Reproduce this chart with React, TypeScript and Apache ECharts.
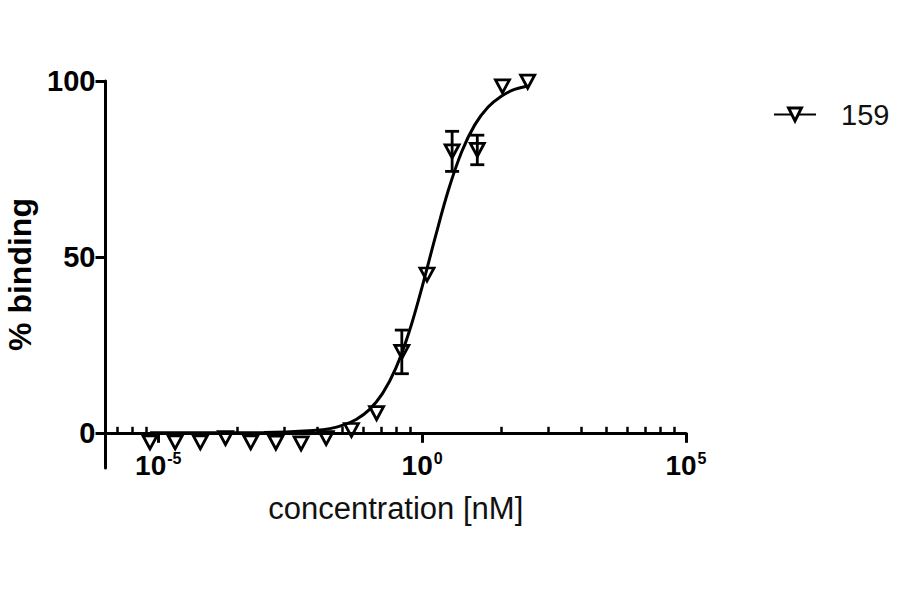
import { useEffect, useRef } from "react";
import * as echarts from "echarts";

const FONT = '"Liberation Sans", Arial, Helvetica, sans-serif';

// 3-fold dilution series (nM) with mean % binding and SD
const concentrations = [
	6.97e-6, 2.09e-5, 6.27e-5, 1.88e-4, 5.65e-4, 1.69e-3, 5.08e-3, 1.52e-2, 4.57e-2, 0.137, 0.412, 1.235, 3.7, 11.1,
	33.3, 100
];
const meanBinding = [-2.7, -2.7, -2.7, -1.5, -2.7, -2.8, -3.0, -1.5, 0.8, 5.6, 23.0, 45.0, 80.0, 80.4, 98.5, 99.8];
const sdBinding = [0, 0, 0, 0, 0, 0, 0, 0, 0, 0, 6.2, 0, 5.7, 4.2, 0, 0];

// fitted curve
const fitConcentrations = [
	6.97e-6, 1e-4, 1e-3, 1e-2, 1.78e-2, 3.16e-2, 5.62e-2, 0.1, 0.178, 0.316, 0.562, 1, 1.78, 3.16, 5.62, 10, 17.8, 31.6,
	56.2, 100
];
const fitBinding = [0, 0, 0.07, 0.7, 1.2, 2.2, 3.8, 6.6, 11.2, 18.3, 28.5, 41.5, 55.7, 69.1, 79.9, 87.6, 92.6, 95.7, 97.6, 98.6];

const yTickValues = [0, 50, 100];
const xLabelValues = [1e-5, 1, 1e5];
const xMinorTickValues = [
	1.68e-6, 3.27e-6, 5.9e-6, 3.2e-4, 2.43e-3, 1.02e-2, 3.13e-2, 7.78e-2, 0.168, 0.327, 0.59, 32, 243, 1023, 3126, 7780,
	16788, 32734, 59020
];

const compoundName = "159";

export default function App() {
	const chartRef = useRef<HTMLDivElement>(null);

	useEffect(() => {
		if (!chartRef.current) return;
		document.body.style.margin = "0";

		const chart = echarts.init(chartRef.current, null, { renderer: "svg" });

		const points = concentrations.map((c, i) => [c, meanBinding[i]]);
		const errorBars = concentrations
			.map((c, i) => [c, meanBinding[i] - sdBinding[i], meanBinding[i] + sdBinding[i]])
			.filter((_, i) => sdBinding[i] > 0);
		const fit = fitConcentrations.map((c, i) => [c, fitBinding[i]]);

		const black = "#000";

		chart.setOption({
			animation: false,
			grid: {
				left: 105.5,
				top: 81,
				width: 580.5,
				height: 387,
				containLabel: false,
				outerBoundsMode: "none"
			},
			legend: {
				data: [compoundName],
				left: 768,
				top: 95,
				itemWidth: 42,
				itemHeight: 16,
				symbolRotate: "inherit",
				itemStyle: { color: "#fff", borderColor: black, borderWidth: 3 },
				textStyle: { fontSize: 29, color: "#111", fontFamily: FONT, padding: [0, 0, 0, 20] }
			},
			xAxis: [
				{
					type: "log",
					logBase: 10,
					min: 1e-6,
					max: 1e5,
					axisLine: { onZero: true, onZeroAxisIndex: 0, lineStyle: { color: black, width: 3 } },
					axisTick: { customValues: xLabelValues, length: 10, lineStyle: { color: black, width: 3 } },
					minorTick: { show: false },
					splitLine: { show: false },
					axisLabel: {
						customValues: xLabelValues,
						margin: -18,
						formatter: (value: number) => `{base|10}{exp|${Math.round(Math.log10(value))}}`,
						rich: {
							base: { fontSize: 28, fontWeight: "bold", color: black, fontFamily: FONT, lineHeight: 30 },
							exp: {
								fontSize: 16,
								fontWeight: "bold",
								color: black,
								fontFamily: FONT,
								verticalAlign: "top",
								lineHeight: 30,
								padding: [0, 0, 8, 1]
							}
						}
					},
					name: "concentration [nM]",
					nameLocation: "middle",
					nameGap: 25,
					nameMoveOverlap: false,
					nameTextStyle: { fontSize: 31, color: "#111", fontFamily: FONT }
				},
				{
					type: "log",
					logBase: 10,
					min: 1e-6,
					max: 1e5,
					axisLine: { show: false, onZero: true, onZeroAxisIndex: 0 },
					axisTick: { customValues: xMinorTickValues, length: 6, lineStyle: { color: black, width: 2.5 } },
					minorTick: { show: false },
					splitLine: { show: false },
					axisLabel: { show: false }
				}
			],
			yAxis: {
				type: "value",
				min: -10,
				max: 100,
				axisLine: { show: true, onZero: false, lineStyle: { color: black, width: 3 } },
				axisTick: { show: true, customValues: yTickValues, length: 10, lineStyle: { color: black, width: 3 } },
				splitLine: { show: false },
				axisLabel: {
					customValues: yTickValues,
					margin: 10,
					fontSize: 29,
					fontWeight: "bold",
					color: black,
					fontFamily: FONT
				},
				name: "% binding",
				nameLocation: "middle",
				nameRotate: 90,
				nameGap: 64,
				nameTextStyle: { fontSize: 32, fontWeight: "bold", color: black, fontFamily: FONT }
			},
			series: [
				{
					name: compoundName,
					type: "line",
					data: fit,
					smooth: 0.4,
					showSymbol: false,
					symbol: "triangle",
					symbolRotate: 180,
					symbolSize: [14, 12],
					lineStyle: { color: black, width: 3 },
					itemStyle: { color: "#fff", borderColor: black, borderWidth: 3 },
					z: 3
				},
				{
					name: "sd",
					type: "custom",
					data: errorBars,
					encode: { x: 0, y: [1, 2] },
					z: 4,
					renderItem: (_params: unknown, api: any) => {
						const x = api.value(0);
						const low = api.coord([x, api.value(1)]);
						const high = api.coord([x, api.value(2)]);
						const half = 7;
						const style = { stroke: black, lineWidth: 2.8, fill: "none" };
						return {
							type: "group",
							children: [
								{ type: "line", shape: { x1: low[0], y1: low[1], x2: high[0], y2: high[1] }, style },
								{ type: "line", shape: { x1: low[0] - half, y1: low[1], x2: low[0] + half, y2: low[1] }, style },
								{ type: "line", shape: { x1: high[0] - half, y1: high[1], x2: high[0] + half, y2: high[1] }, style }
							]
						};
					}
				},
				{
					name: "points",
					type: "scatter",
					data: points,
					symbol: "triangle",
					symbolRotate: 180,
					symbolSize: [14, 13],
					itemStyle: { color: "rgba(255,255,255,0)", borderColor: black, borderWidth: 2.8, opacity: 1 },
					z: 5
				}
			]
		});

		return () => {
			chart.dispose();
		};
	}, []);

	return <div ref={chartRef} style={{ width: 900, height: 594 }} />;
}
